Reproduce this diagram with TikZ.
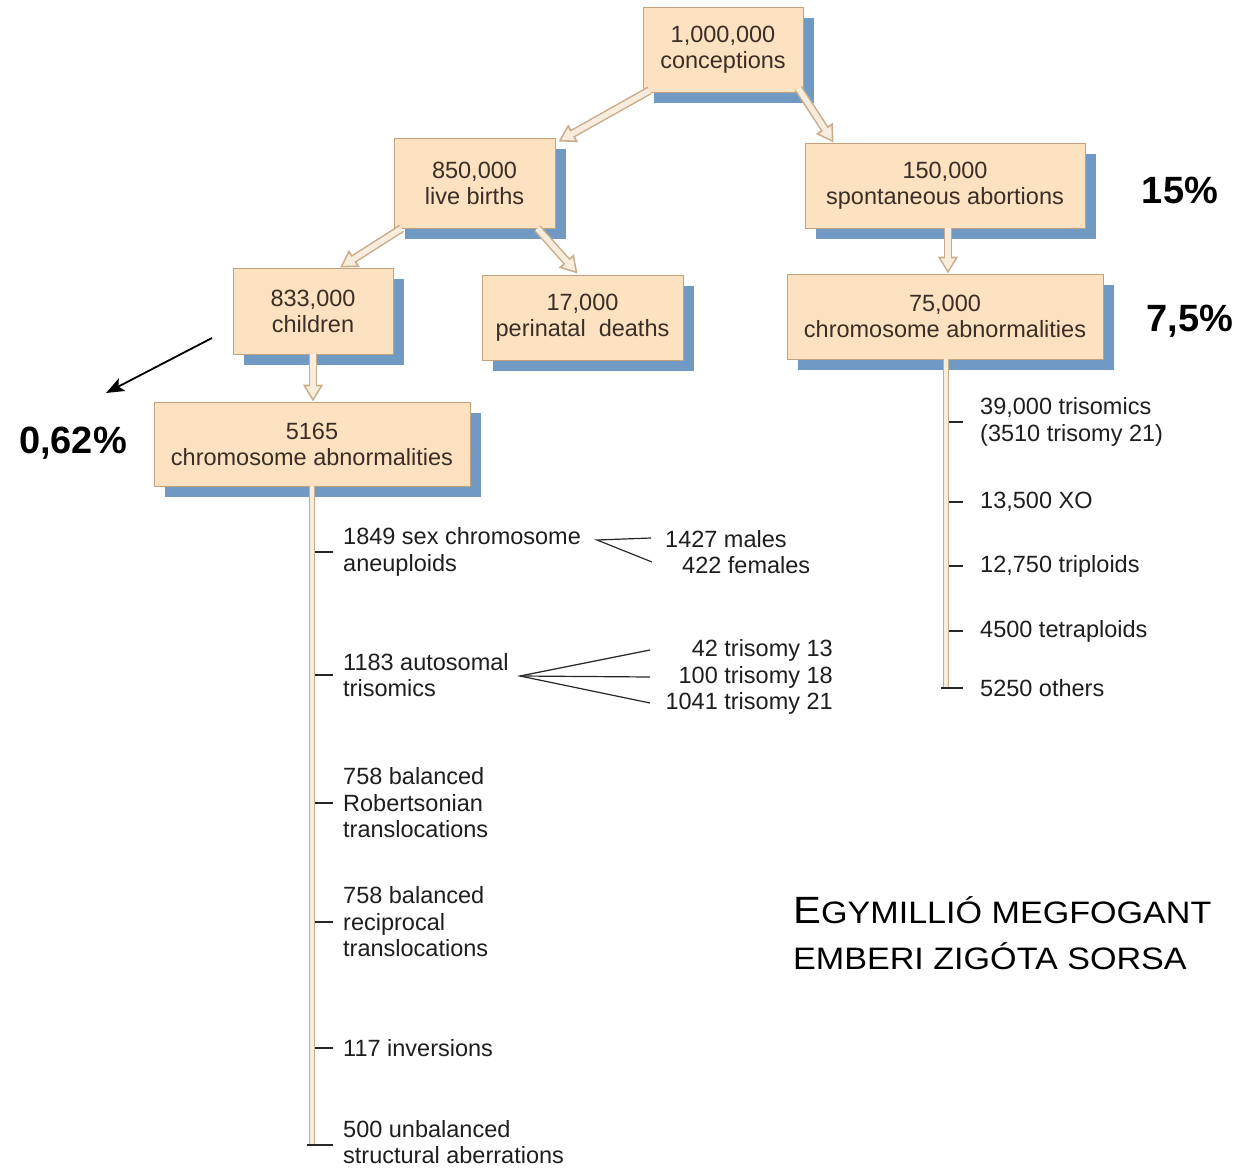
\documentclass[tikz,border=0pt]{standalone}
\usepackage{fontspec}
\usepackage{graphicx}
\setmainfont{Liberation Sans}
\usetikzlibrary{arrows.meta,shadows,calc}
\definecolor{boxfill}{HTML}{FCE2C0}
\definecolor{boxline}{HTML}{C2A27C}
\definecolor{shadowblue}{HTML}{7099C4}
\definecolor{boxtext}{HTML}{3A2E26}
\definecolor{tanline}{HTML}{C9AD8A}
\definecolor{tanfill}{HTML}{F8ECDC}
\definecolor{listtext}{HTML}{1E1E1E}
\newcommand\hollowarrow[2]{%
  \draw[line width=8.5pt, tanline, -{Triangle[length=17pt,width=19pt]}] #1 -- #2;
  \draw[line width=5.5pt, tanfill, shorten >=3.2pt, -{Triangle[length=12pt,width=13.5pt]}] #1 -- #2;}
\newcommand\trunkbar[2]{%
  \draw[line width=6.5pt, tanline] #1 -- #2;
  \draw[line width=3.5pt, tanfill] #1 -- #2;}
\begin{document}
\begin{tikzpicture}[x=1pt,y=-1pt,
  box/.style={draw=boxline, line width=0.8pt, fill=boxfill, text=boxtext, align=center,
    inner sep=0pt, font=\fontsize{23.5}{26}\selectfont,
    drop shadow={shadow xshift=11pt, shadow yshift=-11pt, fill=shadowblue, opacity=1}},
  item/.style={text=listtext, align=left, inner sep=0pt, font=\fontsize{23.5}{26.5}\selectfont, anchor=west},
  itemr/.style={text=listtext, align=right, inner sep=0pt, font=\fontsize{23.5}{26.5}\selectfont, anchor=east},
  pct/.style={inner sep=0pt, font=\fontsize{38}{40}\selectfont\bfseries, text=black},
  tick/.style={draw=black!85, line width=1.3pt},
  branch/.style={draw=black!85, line width=1.2pt}
]
\useasboundingbox (0,0) rectangle (1241,1169);

% boxes
\node[box, minimum width=160pt, minimum height=85pt] (conc) at (723,49.5) {1,000,000\\conceptions};
\node[box, minimum width=161pt, minimum height=90pt] (live) at (474.5,183) {850,000\\live births};
\node[box, minimum width=280pt, minimum height=85pt] (spont) at (945,185.5) {150,000\\spontaneous abortions};
\node[box, minimum width=160pt, minimum height=86pt] (child) at (313,311) {833,000\\children};
\node[box, minimum width=201pt, minimum height=85pt] (peri) at (582.5,317.5) {17,000\\perinatal\ \ deaths};
\node[box, minimum width=316pt, minimum height=85pt] (abnR) at (945,316.5) {75,000\\chromosome abnormalities};
\node[box, minimum width=316pt, minimum height=84pt] (abnL) at (312,444) {5165\\chromosome abnormalities};

% hollow arrows
\hollowarrow{($(conc.south west)+(7,-2)$)}{($(live.north east)+(3,4)$)}
\hollowarrow{($(conc.south east)+(-5,-4)$)}{($(spont.north west)+(29,0)$)}
\hollowarrow{($(live.south west)+(8,0)$)}{($(child.north)+(27,0)$)}
\hollowarrow{($(live.south east)+(-18,0)$)}{($(peri.north west)+(96,-1)$)}
\hollowarrow{($(spont.south)+(3,0)$)}{($(abnR.north)+(3,0)$)}
\hollowarrow{(child.south)}{(child.south |- abnL.north)}

% trunks
\coordinate (lbot) at (312,1145);
\coordinate (rbot) at (946,689);
\trunkbar{(abnL.south)}{(lbot)}
\trunkbar{($(abnR.south)+(1,0)$)}{(rbot)}

% left list
\node[item] (l1) at (343,552) {1849 sex chromosome\\aneuploids};
\node[item] (l2) at (343,675) {1183 autosomal\\trisomics};
\node[item] (l3) at (343,803) {758 balanced\\Robertsonian\\translocations};
\node[item] (l4) at (343,922) {758 balanced\\reciprocal\\translocations};
\node[item] (l5) at (343,1048) {117 inversions};
\node[item, font=\fontsize{23.5}{25.5}\selectfont] (l6) at (343,1142) {500 unbalanced\\structural aberrations};
\foreach \n in {l1,l2,l3,l4,l5}
  \draw[tick] ($(lbot |- \n.west)+(3,0)$) -- ($(\n.west)+(-10,0)$);
\draw[tick] ($(lbot)+(-5,0)$) -- ($(lbot -| l6.west)+(-10,0)$);

% right list
\node[item] (r1) at (980,422) {39,000 trisomics\\(3510 trisomy 21)};
\node[item] (r2) at (980,502) {13,500 XO};
\node[item] (r3) at (980,566) {12,750 triploids};
\node[item] (r4) at (980,631) {4500 tetraploids};
\node[item] (r5) at (980,688) {5250 others};
\foreach \n in {r1,r2,r3,r4}
  \draw[tick] ($(rbot |- \n.west)+(3,0)$) -- ($(\n.west)+(-17,0)$);
\draw[tick] ($(rbot |- r5.west)+(-5,0)$) -- ($(r5.west)+(-17,0)$);

% sex chromosome split
\coordinate (sexapex) at (597,540);
\node[item] (m1) at (665,539) {1427 males};
\node[item] (f1) at (682,565) {422 females};
\draw[branch] ($(m1.west)+(-14,-1)$) -- (sexapex) -- ($(f1.west)+(-30,-3)$);

% autosomal split
\coordinate (autapex) at (520,676);
\coordinate (armx) at (650,0);
\node[itemr] (t13) at (833,650) {42 trisomy 13};
\node[itemr] (t18) at (833,677) {100 trisomy 18};
\node[itemr] (t21) at (833,703) {1041 trisomy 21};
\draw[branch] (armx |- t13.west) -- (autapex) -- (armx |- t21.west);
\draw[branch] (autapex) -- (armx |- t18.west);

% percentages
\node[pct] (p15) at (1180,190) {15\%};
\node[pct] (p75) at (1190,321) {7,5\%};
\node[pct] (p062) at (73,443) {0,62\%};
\coordinate (bs) at (212,338);
\coordinate (be) at (106,393);
\draw[line width=1.8pt, -{Stealth[length=18pt,width=14pt,inset=4pt]}] (bs) -- (be);

% title
\node[inner sep=0pt, anchor=base west] (title1) at (793,923)
  {\scalebox{1.1}[1]{{\fontsize{38}{40}\selectfont E}{\fontsize{31}{34}\selectfont GYMILLIÓ MEGFOGANT}}};
\node[inner sep=0pt, anchor=base west] (title2) at (793,969)
  {\scalebox{1.1}[1]{\fontsize{31}{34}\selectfont EMBERI ZIGÓTA SORSA}};
\end{tikzpicture}
\end{document}
